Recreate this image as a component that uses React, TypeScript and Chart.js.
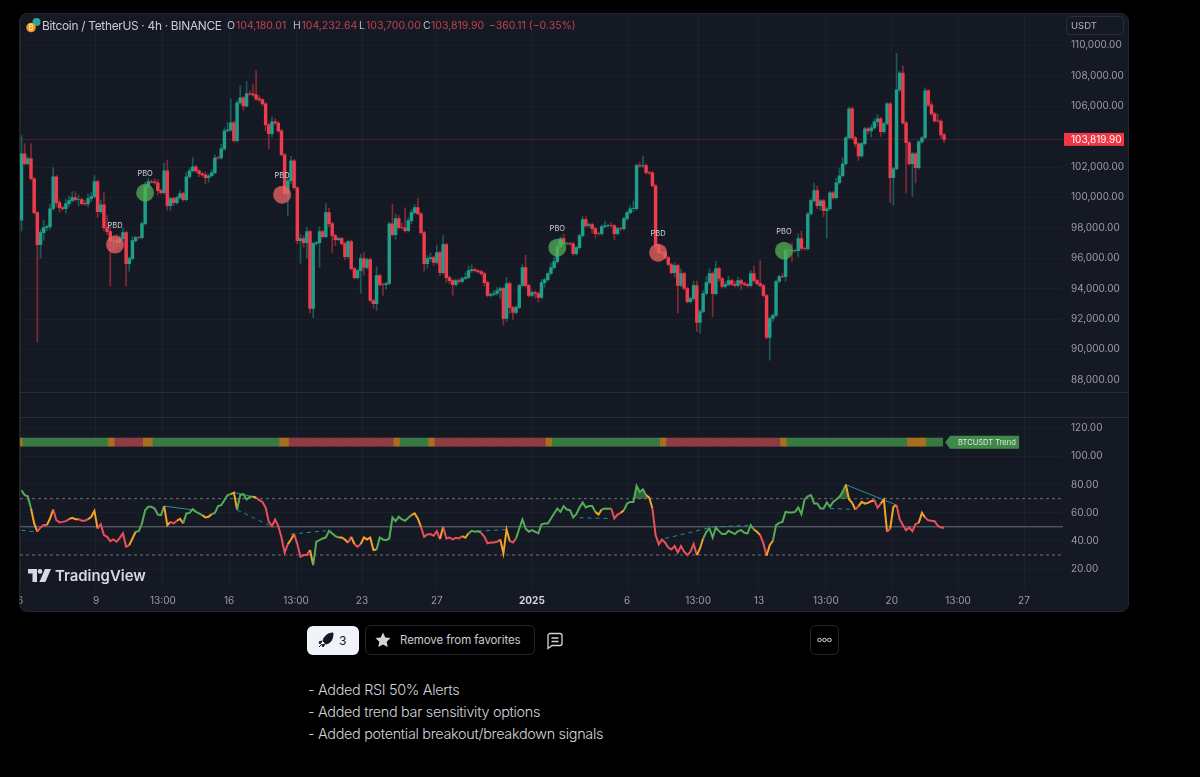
import { useEffect, useRef } from "react";
import Chart from "chart.js/auto";

const firstOpen = 98500;
const closes = [
  102870,102220,102550,101230,99000,96900,97690,98020,98080,99260,
  101360,99660,99330,99260,99590,99790,99990,99850,99860,99590,
  99580,99920,100050,101040,99070,99520,98010,97750,97160,97170,
  97030,97290,97690,95650,95980,97160,97360,97350,98280,100710,
  101040,101030,100970,100450,100310,101760,99460,99920,99660,99990,
  100250,99850,101360,101760,102020,101750,101560,101490,101300,101430,
  101630,102610,102600,103200,104390,104450,104910,103730,106220,106550,
  106030,106820,106810,106750,106490,106420,106160,104780,104190,104980,
  104900,104380,102810,100250,101100,102410,100640,97160,97290,97030,
  97750,92700,96960,97020,97760,97420,99000,98280,97490,97230,
  97290,96960,96110,97100,95320,94730,95190,95980,95390,95910,
  93220,93020,94860,94270,94260,94340,98270,97560,98610,98020,
  98010,97820,98480,99000,99330,98930,97690,95650,95980,96040,
  95720,96370,95060,96900,94730,94530,94270,94540,94470,94670,
  94740,95190,95260,95180,95120,94990,94400,93550,93620,93680,
  93880,94010,92040,94340,92760,92430,92770,94210,95390,94200,
  93550,93750,93680,93420,94400,94600,95000,95380,95780,96770,
  97290,96960,96970,96950,96310,96700,97490,98540,98150,98210,
  97950,97620,97610,98080,98140,98150,98140,97620,97950,97940,
  98610,99000,99260,99270,102090,102080,102100,101630,101620,100770,
  96830,96370,96380,96050,95590,95060,95520,94210,94990,94010,
  93150,93350,94200,91780,92500,93680,94400,95000,93670,95320,
  94670,94140,94270,94530,94280,94210,94540,94340,94270,94200,
  95000,94530,94330,94200,93550,90790,92040,92240,94470,94800,
  94790,96500,96510,96490,96500,97290,96640,96630,98930,99790,
  100450,99460,99780,99130,99260,100310,99990,100970,101430,102220,
  103930,105830,103920,103530,102740,103540,104520,104380,104580,104980,
  105170,104320,104850,106160,101300,101890,107080,108190,104910,103600,
  102220,102870,101960,103660,103930,107010,106090,105500,105040,105030,
  104120,103820,
];
const upperWicks = [
  1200,650,100,1000,100,100,200,500,100,300,
  600,100,200,100,300,300,400,400,300,100,
  200,300,300,400,100,300,800,800,400,300,
  400,200,300,100,100,300,100,100,100,300,
  200,100,200,200,100,500,700,100,100,100,
  200,100,300,200,600,100,100,100,200,100,
  200,200,100,300,200,500,1600,100,150,800,
  100,800,200,650,1600,200,100,100,100,300,
  200,100,100,100,200,300,100,100,300,200,
  300,100,100,100,300,100,600,300,100,100,
  100,100,100,100,100,100,100,300,400,100,
  100,100,600,100,100,100,100,1300,300,200,
  300,1300,200,200,200,600,100,100,200,300,
  100,500,100,600,100,100,100,100,100,100,
  300,300,300,100,100,100,100,100,100,200,
  200,100,100,400,100,100,100,100,200,800,
  100,100,100,100,200,100,100,300,300,200,
  100,300,100,100,100,100,100,200,200,100,
  100,100,100,100,300,100,200,100,100,100,
  100,100,200,500,100,200,600,100,100,100,
  100,100,100,100,100,100,200,100,300,100,
  100,100,300,300,100,200,400,300,100,500,
  100,100,200,300,100,200,200,100,100,100,
  200,500,100,1500,100,100,100,100,100,100,
  200,200,100,500,100,300,500,100,100,100,
  500,300,100,100,100,100,100,300,500,400,
  100,100,100,100,100,100,100,100,200,200,
  300,100,100,100,100,100,2400,100,450,100,
  100,100,100,100,100,200,100,200,100,450,
  100,100,
];
const lowerWicks = [
  700,100,100,100,100,6400,900,500,200,200,
  100,300,300,100,300,200,100,100,400,100,
  100,200,200,100,400,100,200,200,3000,600,
  300,300,100,1450,500,100,100,100,100,100,
  100,100,100,300,100,100,300,300,200,100,
  100,100,100,100,100,100,200,100,400,300,
  100,100,100,100,100,100,100,100,100,100,
  300,100,100,100,100,100,100,400,1000,200,
  100,100,100,100,1450,200,100,200,1500,300,
  1000,300,600,100,1600,100,100,200,1100,400,
  100,100,200,100,100,100,100,1500,500,100,
  100,300,450,100,700,300,100,100,300,100,
  100,100,100,200,100,100,100,500,300,200,
  200,100,200,100,300,200,700,100,100,100,
  100,100,100,100,100,100,200,100,100,100,
  100,500,450,200,400,450,100,100,100,100,
  100,100,300,300,100,300,100,100,100,100,
  100,100,100,100,100,100,100,100,100,100,
  300,300,100,100,100,100,100,400,100,100,
  100,100,100,200,100,100,100,100,100,100,
  100,100,100,100,100,100,300,1800,100,100,
  100,100,100,600,700,100,100,100,1500,100,
  200,100,100,100,100,100,100,400,100,100,
  100,100,100,100,100,100,1500,200,100,100,
  100,300,300,700,100,400,100,100,100,100,
  100,200,300,400,1800,100,100,100,100,100,
  100,100,100,200,300,100,100,200,400,100,
  300,300,100,100,1650,1800,100,100,100,3300,
  100,2150,1000,100,100,100,100,100,100,100,
  200,200,
];

const rsiValues = [
  76,72.5,71.7,63,52.4,46.5,49.5,51.2,51.2,55.9,
  62.3,54.7,53.1,53.5,54,55.4,56.4,55.4,55.4,54.3,
  54.3,55.4,57.1,61.3,48.8,51.9,44.1,42.9,39.8,41,
  39.4,42.2,45.3,35.8,37,41.7,46.5,46.9,52.4,61.8,
  64.2,64.2,63,58.7,58.3,64.7,51.2,53.5,52.4,54.3,
  55.7,52.4,59.5,59.9,62.5,60.6,59.5,58.3,56.6,57.1,
  59,59.9,64.7,65.4,68.9,72.5,73.2,74.3,62.3,72.5,
  73.2,69.4,71.3,71.3,70.8,68.9,67.7,63.7,53.5,50.5,
  55.2,50.5,42.4,31.6,37.7,41,44.8,37.7,28.7,29.9,
  29.9,33.5,22.8,39.4,40.5,41.7,42.4,47.2,45.3,43.4,
  42.4,42.4,41,38.7,42.9,37.7,35.8,37.7,42.4,41,
  42.4,33.5,33.9,42.4,41,40.5,41.7,56.6,54,57.1,
  55.2,54.3,56.4,58.3,59.5,55.9,50,42.9,44.6,44.8,
  43.6,46.9,41.3,50,41.7,42.4,41,42.2,41.7,43.4,
  42.2,45.3,47.2,46.5,46.9,45.7,42.9,38.2,38.9,38.9,
  39.4,41,31.1,48.1,39.8,38.9,41.7,48.8,55.2,48.8,
  46.5,47.6,46.5,45.3,51.7,52.4,52.4,55.9,59.5,63,
  60.6,64.7,62.3,61.8,56.6,59,63.7,67.3,63.7,64.7,
  64.7,60.6,58.7,62.3,63,62.8,63,55.9,58.7,59.9,
  61.8,66.5,67.7,67.7,79.1,74.8,76.7,72.5,70.8,63,
  44.1,37.5,41,38.7,35.3,33.9,36.3,31.8,36.3,32.3,
  29.9,32.3,37.7,29.9,34.6,41.7,46.5,48.8,42.4,49.5,
  46.9,44.8,44.8,47.2,46,44.8,46.9,47.6,45.7,45.3,
  51.2,48.1,46.5,44.1,38.2,29.4,37,40.1,51.2,52.8,
  53.5,60.6,60.2,60.2,60.6,63.7,59,69.4,71.7,72.5,
  66.5,66.5,63,63,67.3,64.2,67.7,69.4,71.3,74.8,
  80,69.6,67,62.3,64.7,67.7,66.5,67,68.2,68.9,
  63.5,66.5,69.4,46.5,48.8,64.2,65.4,55.2,51.2,47.6,
  49.5,46.9,51.9,52.8,59.9,56.6,54.7,54.3,54,50.7,
  49.5,49.3,
];
const rsiRunEnds = [3,5,8,10,15,18,21,24,34,36,45,47,49,51,57,60,66,68,73,74,84,86,91,92,100,103,104,105,107,112,123,126,132,133,139,141,145,151,154,156,181,183,186,189,190,197,199,213,215,231,233,235,237,260,263,264,269,271,273,274,276,283,285,291];
const rsiRunStates = ["g","o","r","o","r","o","r","o","r","o","g","o","r","o","g","o","g","o","g","o","r","o","r","o","g","o","r","o","r","o","g","o","r","o","r","o","g","r","o","r","g","o","g","r","o","g","o","r","o","g","o","r","o","g","o","r","o","r","o","r","o","r","o","r"];

const trendRunEnds = [1,28,30,39,42,82,85,118,120,129,131,166,168,202,204,240,242,280,286,291];
const trendRunStates = ["o","g","o","r","o","g","o","r","o","g","o","r","o","g","o","r","o","g","o","g"];

const breakoutBars = [39, 169, 240.5];
const breakoutPrices = [100310, 96700, 96500];
const breakdownBars = [29.5, 82.2, 200.8];
const breakdownPrices = [96900, 100180, 96370];

const solidTrends = [
  [45, 64.7, 54, 62],
  [67, 74.5, 74, 70.8],
  [260, 80, 276, 65.4],
];
const dashedTrends = [
  [0, 47.6, 4, 46.4],
  [68, 62, 78, 51.2],
  [85, 44.8, 96, 47.2],
  [144, 46.9, 153, 48.1],
  [176, 56.4, 186, 55.9],
  [203, 41.7, 218, 49.9],
  [218, 49.9, 229, 51],
  [255, 63, 263, 62.3],
];
const overboughtFills = [
  [193, 199],
  [257, 261],
];

const xTickBars = [-0.47, 23.5, 44.6, 65.5, 86.6, 107.4, 131, 161, 191, 213.4, 232.6, 253.7, 274.5, 295.4, 316.2];
const xTickLabels = ["6", "9", "13:00", "16", "13:00", "23", "27", "2025", "6", "13:00", "13", "13:00", "20", "13:00", "27"];

const lastPrice = 103819.9;
// 104,000 is hidden behind the last price tag in the reference
const priceTicks = [88000, 90000, 92000, 94000, 96000, 98000, 100000, 102000, 106000, 108000, 110000];
const rsiTicks = [20, 40, 60, 80, 100, 120];
const rsiLevels = [70, 50, 30];
const trendBand = [107.2, 113];

const UP = "#1f9e89";
const DOWN = "#ef3b4c";
const UP_WICK = "rgba(31,158,137,0.5)";
const DOWN_WICK = "rgba(239,59,76,0.5)";
const RSI_COLORS: Record<string, string> = { g: "#53ad55", o: "#f5a328", r: "#e9505c" };
const TREND_COLORS: Record<string, string> = { g: "#397a43", o: "#a6701f", r: "#8f3d42" };

const FONT = "Inter, 'Noto Sans', sans-serif";
const stateAt = (ends: number[], states: string[], i: number) => {
  const k = ends.findIndex((e) => i < e);
  return states[k === -1 ? states.length - 1 : k];
};

const xMin = -0.47;
const xMax = 328.5;

const markerLabels = {
  id: "markerLabels",
  afterDatasetsDraw(chart: any) {
    const { ctx } = chart;
    ctx.save();
    ctx.font = `7.5px ${FONT}`;
    ctx.textAlign = "center";
    ctx.fillStyle = "#cfd1d8";
    chart.data.datasets.forEach((ds: any, idx: number) => {
      if (!ds.markerText) return;
      chart.getDatasetMeta(idx).data.forEach((p: any) => {
        ctx.fillText(ds.markerText, p.x, p.y - 16.5);
      });
    });
    ctx.restore();
  },
};

const lastPriceTag = {
  id: "lastPriceTag",
  afterDraw(chart: any) {
    const { ctx, scales } = chart;
    const y = scales.yPrice.getPixelForValue(lastPrice);
    ctx.save();
    ctx.fillStyle = "#f23645";
    ctx.fillRect(1064, y - 6.5, 60, 13);
    ctx.fillStyle = "#fff";
    ctx.font = `10px ${FONT}`;
    ctx.textBaseline = "middle";
    ctx.fillText(lastPrice.toLocaleString("en-US", { minimumFractionDigits: 2 }), 1071, y + 0.5);

    // trend label sits right after the last bar
    const tx = scales.x.getPixelForValue(closes.length - 1) + 1;
    const ty = scales.yRsi.getPixelForValue((trendBand[0] + trendBand[1]) / 2);
    ctx.fillStyle = "#3f8a4a";
    ctx.beginPath();
    ctx.moveTo(tx, ty);
    ctx.lineTo(tx + 5, ty - 6.5);
    ctx.lineTo(tx + 74, ty - 6.5);
    ctx.lineTo(tx + 74, ty + 6.5);
    ctx.lineTo(tx + 5, ty + 6.5);
    ctx.closePath();
    ctx.fill();
    ctx.fillStyle = "#dfe9e0";
    ctx.font = `7.5px ${FONT}`;
    ctx.fillText("BTCUSDT Trend", tx + 13, ty + 0.5);
    ctx.restore();
  },
};

const CandleChart = () => {
  const chartContainer = useRef<HTMLCanvasElement | null>(null);

  useEffect(() => {
    const opens = closes.map((_, i) => (i === 0 ? firstOpen : closes[i - 1]));
    const bars = closes.map((_, i) => i);
    const isUp = (i: number) => closes[i] >= opens[i];

    const trendLine = (t: number[], dash: number[], order: number) => ({
      type: "line" as const,
      yAxisID: "yRsi",
      data: [{ x: t[0], y: t[1] }, { x: t[2], y: t[3] }],
      borderColor: "#2b8c9e",
      borderWidth: 1,
      borderDash: dash,
      pointRadius: 0,
      order,
    });

    const chart = new Chart(chartContainer.current as HTMLCanvasElement, {
      type: "bar",
      data: {
        datasets: [
          {
            type: "scatter",
            yAxisID: "yPrice",
            markerText: "PBO",
            data: breakoutBars.map((x, i) => ({ x, y: breakoutPrices[i] })),
            backgroundColor: "rgba(88,180,86,0.72)",
            pointRadius: 9,
            pointBorderWidth: 0,
            order: 0,
          },
          {
            type: "scatter",
            yAxisID: "yPrice",
            markerText: "PBD",
            data: breakdownBars.map((x, i) => ({ x, y: breakdownPrices[i] })),
            backgroundColor: "rgba(240,100,100,0.75)",
            pointRadius: 9,
            pointBorderWidth: 0,
            order: 0,
          },
          {
            yAxisID: "yPrice",
            data: bars.map((i) => ({ x: i, y: [opens[i], closes[i]] })),
            backgroundColor: bars.map((i) => (isUp(i) ? UP : DOWN)),
            barThickness: 2.8,
            grouped: false,
            order: 1,
          },
          {
            yAxisID: "yPrice",
            data: bars.map((i) => ({
              x: i,
              y: [Math.min(opens[i], closes[i]) - lowerWicks[i], Math.max(opens[i], closes[i]) + upperWicks[i]],
            })),
            backgroundColor: bars.map((i) => (isUp(i) ? UP_WICK : DOWN_WICK)),
            barThickness: 1,
            grouped: false,
            order: 2,
          },
          {
            type: "line",
            yAxisID: "yPrice",
            data: [{ x: xMin, y: lastPrice }, { x: xMax, y: lastPrice }],
            borderColor: "rgba(242,54,69,0.25)",
            borderWidth: 1,
            pointRadius: 0,
            order: 3,
          },
          {
            yAxisID: "yRsi",
            data: bars.slice(0, -1).map((i) => ({ x: i, y: trendBand })),
            backgroundColor: bars.slice(0, -1).map((i) => TREND_COLORS[stateAt(trendRunEnds, trendRunStates, i)]),
            barThickness: 3.6,
            grouped: false,
            order: 4,
          },
          {
            type: "line",
            yAxisID: "yRsi",
            data: bars.map((i) => ({ x: i, y: rsiValues[i] })),
            borderWidth: 2,
            pointRadius: 0,
            segment: {
              borderColor: (ctx: any) => RSI_COLORS[stateAt(rsiRunEnds, rsiRunStates, ctx.p0DataIndex)],
            },
            order: 1,
          },
          ...overboughtFills.map((f) => ({
            type: "line" as const,
            yAxisID: "yRsi",
            data: bars.slice(f[0], f[1] + 1).map((i) => ({ x: i, y: Math.max(rsiValues[i], 70) })),
            borderWidth: 0,
            pointRadius: 0,
            backgroundColor: "rgba(83,173,85,0.5)",
            fill: { value: 70 },
            order: 2,
          })),
          ...solidTrends.map((t) => trendLine(t, [], 3)),
          ...dashedTrends.map((t) => trendLine(t, [4, 4], 3)),
          ...rsiLevels.map((v) => ({
            type: "line" as const,
            yAxisID: "yRsi",
            data: [{ x: xMin, y: v }, { x: xMax, y: v }],
            borderColor: "#6d7079",
            borderWidth: 1,
            borderDash: v === 50 ? [] : [3, 3],
            pointRadius: 0,
            order: 5,
          })),
        ] as any,
      },
      options: {
        animation: false,
        responsive: false,
        devicePixelRatio: 1,
        layout: { padding: { left: 20, right: 72, top: 13, bottom: 167 } },
        plugins: { legend: { display: false }, tooltip: { enabled: false } },
        scales: {
          x: {
            type: "linear",
            min: xMin,
            max: xMax,
            offset: false,
            grid: { color: "rgba(255,255,255,0.03)", drawTicks: false, offset: false },
            border: { display: false },
            afterBuildTicks: (scale: any) => {
              scale.ticks = xTickBars.map((value) => ({ value }));
            },
            afterFit: (scale: any) => {
              scale.height = 20;
            },
            ticks: {
              autoSkip: false,
              maxRotation: 0,
              padding: 5,
              color: (ctx: any) => (ctx.tick && ctx.tick.value === 161 ? "#d1d4dc" : "#9a9da6"),
              font: (ctx: any) => ({
                family: FONT,
                size: 10,
                weight: ctx.tick && ctx.tick.value === 161 ? "bold" : "normal",
              }),
              callback: (v: any) => xTickLabels[xTickBars.indexOf(v)],
            },
          },
          yPrice: {
            axis: "y",
            type: "linear",
            position: "right",
            stack: "panes",
            stackWeight: 404,
            min: 85538,
            max: 112069,
            grid: { color: "rgba(255,255,255,0.028)", drawTicks: false },
            border: { display: false },
            afterBuildTicks: (scale: any) => {
              scale.ticks = priceTicks.map((value) => ({ value }));
            },
            afterFit: (scale: any) => {
              scale.width = 65;
            },
            ticks: {
              padding: 8,
              color: "#9a9da6",
              font: { family: FONT, size: 10 },
              callback: (v: any) => Number(v).toLocaleString("en-US", { minimumFractionDigits: 2 }),
            },
          },
          yRsi: {
            axis: "y",
            type: "linear",
            position: "right",
            stack: "panes",
            stackWeight: 173,
            min: 5.1,
            max: 127.8,
            grid: { color: "rgba(255,255,255,0.028)", drawTicks: false },
            border: { display: false },
            afterBuildTicks: (scale: any) => {
              scale.ticks = rsiTicks.map((value) => ({ value }));
            },
            afterFit: (scale: any) => {
              scale.width = 65;
            },
            ticks: {
              padding: 8,
              color: "#9a9da6",
              font: { family: FONT, size: 10 },
              callback: (v: any) => Number(v).toFixed(2),
            },
          },
        },
      } as any,
      plugins: [markerLabels, lastPriceTag],
    });

    return () => {
      chart.destroy();
    };
  }, []);

  return (
    <canvas
      ref={chartContainer}
      width={1200}
      height={777}
      style={{ position: "absolute", left: 0, top: 0, clipPath: "inset(13px 72px 167px 20px round 8px)" }}
    />
  );
};

const abs = (left: number, top: number, extra: any = {}) => ({
  position: "absolute" as const,
  left,
  top,
  whiteSpace: "nowrap" as const,
  ...extra,
});

const Ohlc = ({ x, vx, label, value }: { x: number; vx: number; label: string; value: string }) => (
  <>
    <span style={abs(x, 19, { color: "#b8bbc4", fontSize: 10.5, lineHeight: "13px" })}>{label}</span>
    <span style={abs(vx, 19, { color: "#c2404e", fontSize: 10.5, lineHeight: "13px" })}>{value}</span>
  </>
);

const App = () => {
  return (
    <div style={{ position: "fixed", inset: 0, background: "#000", fontFamily: FONT, overflow: "hidden" }}>
      <div style={abs(19, 13, { width: 1108, height: 597, background: "#151924", border: "1px solid #23262f", borderRadius: 8 })} />
      <div style={abs(20, 392, { width: 1108, height: 1, background: "#282c36" })} />
      <div style={abs(20, 417, { width: 1108, height: 1, background: "#282c36" })} />
      <CandleChart />

      {/* header */}
      <svg style={abs(25, 17)} width={16} height={17} viewBox="0 0 16 17">
        <circle cx="11.5" cy="5" r="4" fill="#26a69a" />
        <circle cx="6" cy="10.5" r="4.8" fill="#f7931a" />
        <text x="6" y="13" fontSize="7" fill="#fff" textAnchor="middle">₿</text>
      </svg>
      <span style={abs(42, 18, { color: "#c9ccd4", fontSize: 11.9, letterSpacing: -0.3, lineHeight: "15px" })}>
        Bitcoin / TetherUS · 4h · BINANCE
      </span>
      <Ohlc x={227} vx={236} label="O" value="104,180.01" />
      <Ohlc x={293} vx={301.5} label="H" value="104,232.64" />
      <Ohlc x={359} vx={366} label="L" value="103,700.00" />
      <Ohlc x={423} vx={431} label="C" value="103,819.90" />
      <span style={abs(489, 19, { color: "#c2404e", fontSize: 10.5, lineHeight: "13px" })}>
        −360.11 (−0.35%)
      </span>
      <div style={abs(1066, 16, { width: 58, height: 19, boxSizing: "border-box", border: "1px solid #2a2e39", borderRadius: 4, color: "#b2b5be", fontSize: 9.5, lineHeight: "17px", paddingLeft: 4 })}>
        USDT
      </div>

      {/* logo */}
      <svg style={abs(28, 569)} width={23} height={13} viewBox="0 0 23 13">
        <path d="M0 0h9v13H4.5V4.5H0z" fill="#d8dae0" />
        <circle cx="12" cy="2.4" r="2.3" fill="#d8dae0" />
        <path d="M17 0h6l-5.6 13h-6z" fill="#d8dae0" />
      </svg>
      <span style={abs(55, 567, { color: "#d8dae0", fontSize: 14.9, fontWeight: 600, lineHeight: "18px" })}>TradingView</span>

      {/* buttons under the chart */}
      <div style={abs(307, 626, { width: 52, height: 29, background: "#f0f3fa", borderRadius: 6 })} />
      <svg style={abs(318, 632)} width={16} height={17} viewBox="0 0 16 17">
        <path d="M15 1c-5 0-9 3-10 8l3 3c5-1 7-5 7-11zM1 10l3-1-2 3zM5 15l2-3-3 1zM1 15l3-3" fill="#131722" stroke="#131722" strokeWidth="1" />
      </svg>
      <span style={abs(339, 633, { color: "#131722", fontSize: 12, lineHeight: "16px" })}>3</span>
      <div style={abs(365, 625, { width: 170, height: 30, boxSizing: "border-box", border: "1px solid #23262d", borderRadius: 6 })} />
      <svg style={abs(375, 632)} width={16} height={16} viewBox="0 0 16 16">
        <path d="M8 .5l2.3 5 5.2.6-3.8 3.6 1 5.3L8 12.4 3.3 15l1-5.3L.5 6.1l5.2-.6z" fill="#d1d4dc" />
      </svg>
      <span style={abs(400, 632, { color: "#c9ccd4", fontSize: 11.5, letterSpacing: -0.1, lineHeight: "16px" })}>Remove from favorites</span>
      <svg style={abs(546, 632)} width={18} height={18} viewBox="0 0 18 18" fill="none" stroke="#d1d4dc" strokeWidth="1.3">
        <path d="M2 3.5a2 2 0 012-2h10a2 2 0 012 2v8a2 2 0 01-2 2H6l-4 3z" />
        <path d="M5.5 6h7M5.5 9.5h7" />
      </svg>
      <div style={abs(810, 625, { width: 29, height: 30, boxSizing: "border-box", border: "1px solid #23262d", borderRadius: 6 })} />
      <svg style={abs(817, 637)} width={15} height={6} viewBox="0 0 15 6" fill="none" stroke="#d1d4dc" strokeWidth="1">
        <circle cx="2.5" cy="3" r="1.8" />
        <circle cx="7.5" cy="3" r="1.8" />
        <circle cx="12.5" cy="3" r="1.8" />
      </svg>

      {/* release notes */}
      <div style={abs(308, 679, { color: "#d1d4dc", fontSize: 14.4, letterSpacing: -0.3, lineHeight: "22px", fontWeight: 300 })}>
        <div>- Added RSI 50% Alerts</div>
        <div>- Added trend bar sensitivity options</div>
        <div>- Added potential breakout/breakdown signals</div>
      </div>
    </div>
  );
};

export default App;
